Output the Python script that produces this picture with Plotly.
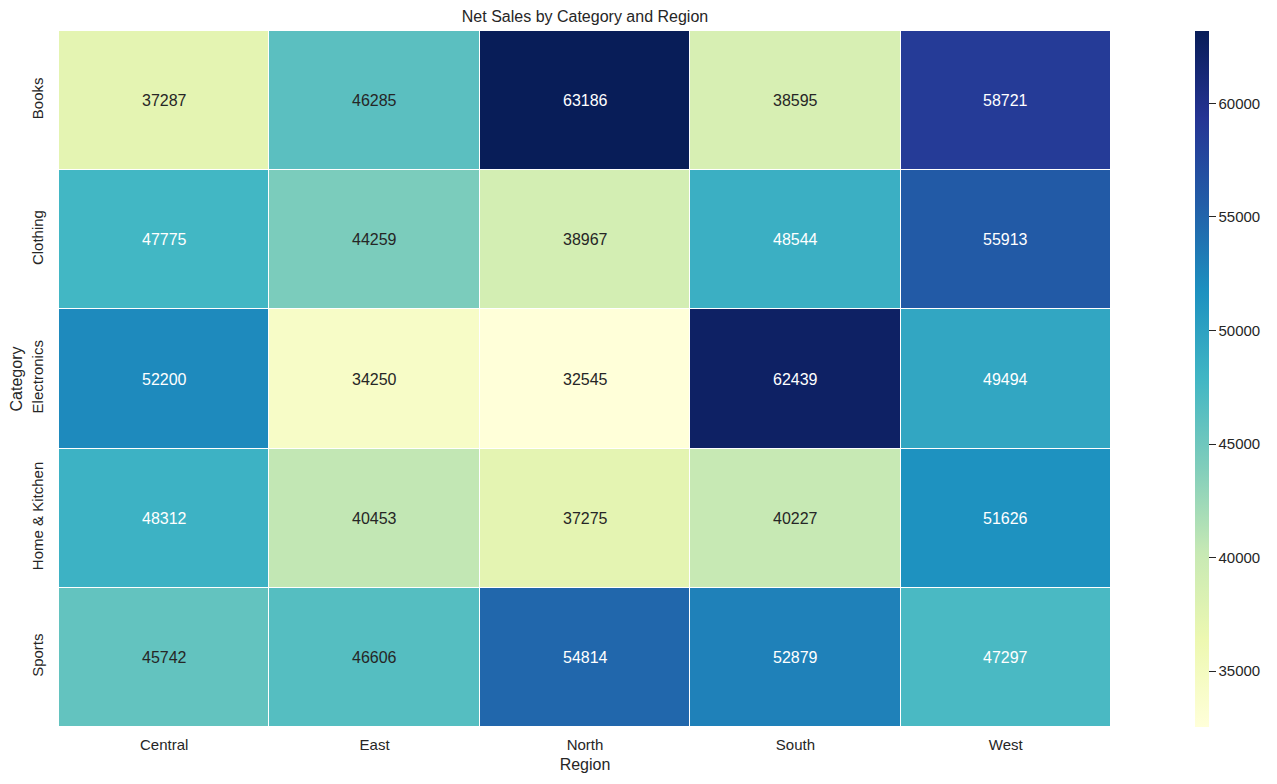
import plotly.graph_objects as go

regions = ["Central", "East", "North", "South", "West"]
categories = ["Books", "Clothing", "Electronics", "Home & Kitchen", "Sports"]
net_sales = [
    [37287, 46285, 63186, 38595, 58721],
    [47775, 44259, 38967, 48544, 55913],
    [52200, 34250, 32545, 62439, 49494],
    [48312, 40453, 37275, 40227, 51626],
    [45742, 46606, 54814, 52879, 47297],
]
colorbar_ticks = [35000, 40000, 45000, 50000, 55000, 60000]

ylgnbu = ["#ffffd9", "#edf8b1", "#c7e9b4", "#7fcdbb", "#41b6c4",
          "#1d91c0", "#225ea8", "#253494", "#081d58"]
colorscale = [[i / (len(ylgnbu) - 1), c] for i, c in enumerate(ylgnbu)]

flat = [v for row in net_sales for v in row]
zmin, zmax = min(flat), max(flat)


def hex_rgb(h):
    h = h.lstrip("#")
    return [int(h[i:i + 2], 16) for i in (0, 2, 4)]


def color_at(v):
    t = (v - zmin) / (zmax - zmin)
    n = len(ylgnbu) - 1
    i = min(int(t * n), n - 1)
    f = t * n - i
    a, b = hex_rgb(ylgnbu[i]), hex_rgb(ylgnbu[i + 1])
    return [a[k] + (b[k] - a[k]) * f for k in range(3)]


def lum(rgb):
    out = []
    for c in rgb:
        c = c / 255
        out.append(c / 12.92 if c <= 0.03928 else ((c + 0.055) / 1.055) ** 2.4)
    return 0.2126 * out[0] + 0.7152 * out[1] + 0.0722 * out[2]


FONT = "Liberation Sans, Arial, sans-serif"
DARK = "#262626"

# page body has an 8px margin, so the figure starts at (8, 8)
W, H = 1269, 776
L, T, R, B = 51, 23, 166, 57

fig = go.Figure(go.Heatmap(
    z=net_sales, x=regions, y=categories,
    colorscale=colorscale, zmin=zmin, zmax=zmax,
    xgap=1, ygap=1,
    colorbar=dict(
        x=(1187 - L) / (W - L - R), xanchor="left", xpad=0, xref="paper",
        y=0.5, yanchor="middle", ypad=0, len=1, lenmode="fraction",
        thickness=14, outlinewidth=0,
        tickvals=colorbar_ticks, tickformat="d", ticks="outside", ticklen=7,
        tickcolor=DARK, tickwidth=1.3,
        tickfont=dict(family=FONT, size=15, color=DARK),
    ),
))

annotations = []
for i, cat in enumerate(categories):
    for j, reg in enumerate(regions):
        v = net_sales[i][j]
        col = DARK if lum(color_at(v)) > 0.408 else "white"
        annotations.append(dict(
            x=reg, y=cat, text=str(v), showarrow=False,
            font=dict(family=FONT, size=16, color=col),
        ))

fig.update_layout(
    width=W, height=H,
    margin=dict(l=L, r=R, t=T, b=B, autoexpand=False),
    paper_bgcolor="white", plot_bgcolor="white",
    title=dict(text="Net Sales by Category and Region", x=(L + (W - R)) / 2 / W,
               xanchor="center", y=1 - 8 / H, yanchor="middle",
               font=dict(family=FONT, size=16, color=DARK)),
    annotations=annotations,
    xaxis=dict(title=dict(text="Region", font=dict(family=FONT, size=16, color=DARK), standoff=6),
               tickfont=dict(family=FONT, size=15, color=DARK), ticklabelstandoff=7,
               automargin=False,
               showgrid=False, zeroline=False, ticks="", ticklen=0),
    yaxis=dict(title=dict(text="Category", font=dict(family=FONT, size=16, color=DARK), standoff=4),
               tickfont=dict(family=FONT, size=15, color=DARK), tickangle=-90,
               ticklabelstandoff=12, automargin=False,
               autorange="reversed", showgrid=False, zeroline=False, ticks="", ticklen=0),
)

fig.write_html("out.html")
